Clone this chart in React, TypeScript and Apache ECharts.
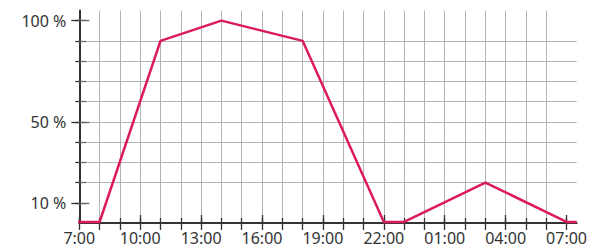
import React, { useEffect, useRef } from "react";
import * as echarts from "echarts";

// Hours after 07:00 (day 1) and relative load in %
const hours = [-0.2, 1, 4, 7, 11, 15, 16, 20, 24, 24.5];
const load = [0.5, 0.5, 90, 100, 90, 0.5, 0.5, 20, 0.5, 0.5];

const xLabelHours = [0, 3, 6, 9, 12, 15, 18, 21, 24];
const xLabels = ["7:00", "10:00", "13:00", "16:00", "19:00", "22:00", "01:00", "04:00", "07:00"];
const xMinorHours = Array.from({ length: 25 }, (_, i) => i);

const yLabelValues = [10, 50, 100];
const yMinorValues = [10, 20, 30, 40, 50, 60, 70, 80, 90, 100];

const FONT = "Noto Sans";
const AXIS = "#333333";
const GRID = "#b4b4b4";
const LINE = "#dc1a5e";

export default function App() {
  const ref = useRef<HTMLDivElement>(null);
  useEffect(() => {
    const chart = echarts.init(ref.current!, null, { renderer: "svg" });
    const baseX = { type: "value", min: 0, max: 24.5, interval: 1, gridIndex: 0, position: "bottom", offset: 0 };
    const baseY = { type: "value", min: 0, max: 105, interval: 10, gridIndex: 0, position: "left", offset: 0 };
    const hidden = { axisLine: { show: false }, axisLabel: { show: false }, splitLine: { show: false } };
    chart.setOption({
      animation: false,
      grid: { left: 79.3, right: 8.7, top: 10.5, bottom: 21.7, containLabel: false },
      xAxis: [
        {
          ...baseX,
          axisLine: { show: true, lineStyle: { color: AXIS, width: 2 } },
          axisTick: { show: true, inside: false, length: 7, customValues: xMinorHours, lineStyle: { color: AXIS, width: 1.3 } },
          axisLabel: {
            show: true,
            customValues: xLabelHours,
            margin: 7,
            color: "#333",
            fontFamily: FONT,
            fontSize: 16,
            formatter: (v: number) => xLabels[xLabelHours.indexOf(Math.round(v))] ?? "",
          },
          splitLine: { show: true, showMinLine: false, showMaxLine: false, lineStyle: { color: GRID, width: 1 } },
        },
        {
          ...baseX,
          ...hidden,
          axisTick: { show: true, inside: true, length: 5, customValues: xMinorHours, lineStyle: { color: AXIS, width: 1.3 } },
        },
        {
          ...baseX,
          ...hidden,
          axisTick: { show: true, inside: true, length: 8, customValues: xLabelHours, lineStyle: { color: AXIS, width: 1.3 } },
        },
      ],
      yAxis: [
        {
          ...baseY,
          axisLine: { show: true, lineStyle: { color: AXIS, width: 2 } },
          axisTick: { show: true, inside: false, length: 4, customValues: yMinorValues, lineStyle: { color: AXIS, width: 1.3 } },
          axisLabel: {
            show: true,
            customValues: yLabelValues,
            margin: 13,
            color: "#333",
            fontFamily: FONT,
            fontSize: 16,
            formatter: (v: number) => `${v} %`,
          },
          splitLine: { show: true, showMinLine: false, showMaxLine: false, lineStyle: { color: GRID, width: 1 } },
        },
        {
          ...baseY,
          ...hidden,
          axisTick: { show: true, inside: true, length: 7, customValues: yMinorValues, lineStyle: { color: "#666", width: 1.3 } },
        },
        {
          ...baseY,
          ...hidden,
          axisTick: { show: true, inside: false, length: 8, customValues: yLabelValues, lineStyle: { color: AXIS, width: 1.3 } },
        },
        {
          ...baseY,
          ...hidden,
          axisTick: { show: true, inside: true, length: 10, customValues: yLabelValues, lineStyle: { color: "#666", width: 1.3 } },
        },
      ],
      series: [
        {
          type: "line",
          xAxisIndex: 0,
          yAxisIndex: 0,
          data: hours.map((h, i) => [h, load[i]]),
          showSymbol: false,
          clip: false,
          lineStyle: { color: LINE, width: 2.5 },
          itemStyle: { color: LINE },
          z: 5,
        },
      ],
    });
    return () => chart.dispose();
  }, []);
  return (
    <div
      ref={ref}
      style={{ position: "fixed", left: 0, top: 0, width: 590, height: 246, background: "#fff" }}
    />
  );
}
